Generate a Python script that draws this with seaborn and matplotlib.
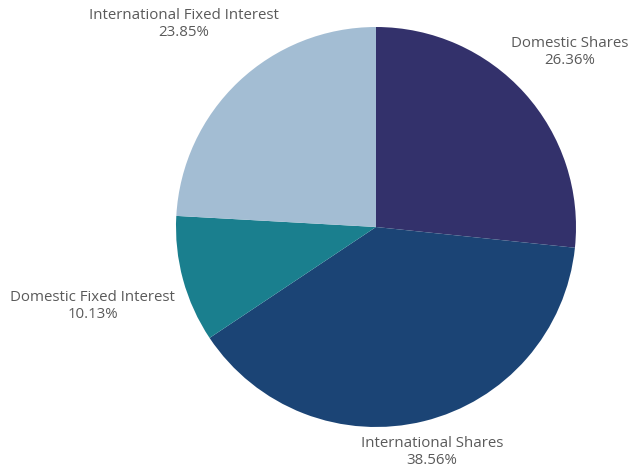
import matplotlib
matplotlib.use("Agg")
import matplotlib.pyplot as plt
import seaborn as sns

sns.set_theme(style="white")
plt.rcParams['font.family'] = ['Open Sans', 'DejaVu Sans']

categories = ["Domestic Shares", "International Shares", "Domestic Fixed Interest", "International Fixed Interest"]
values = [26.36, 38.56, 10.13, 23.85]
colors = ["#33316b", "#1b4475", "#1a7f8e", "#a3bdd3"]

W, H = 632, 473
fig = plt.figure(figsize=(W / 100, H / 100), dpi=100)
cx, cy, r = 376, 227, 200
ax = fig.add_axes([(cx - r) / W, (H - cy - r) / H, 2 * r / W, 2 * r / H])

ax.pie(values, colors=colors, startangle=90, counterclock=False,
       wedgeprops=dict(linewidth=0), radius=1)
ax.set_xlim(-1, 1)
ax.set_ylim(-1, 1)
ax.set_aspect('auto')

def px(x, y):
    return (x - cx) / r, (cy - y) / r

label_pos = {
    "Domestic Shares": (570, 52),
    "International Shares": (432, 452),
    "Domestic Fixed Interest": (92.5, 306),
    "International Fixed Interest": (183.5, 24),
}
for cat, val in zip(categories, values):
    x, y = px(*label_pos[cat])
    ax.text(x, y, f"{cat}\n{val:.2f}%", ha="center", va="center",
            fontsize=10.8, color="#5a5a5a", linespacing=1.25, clip_on=False)

ax.axis('off')
fig.savefig("out.png", dpi=100)
